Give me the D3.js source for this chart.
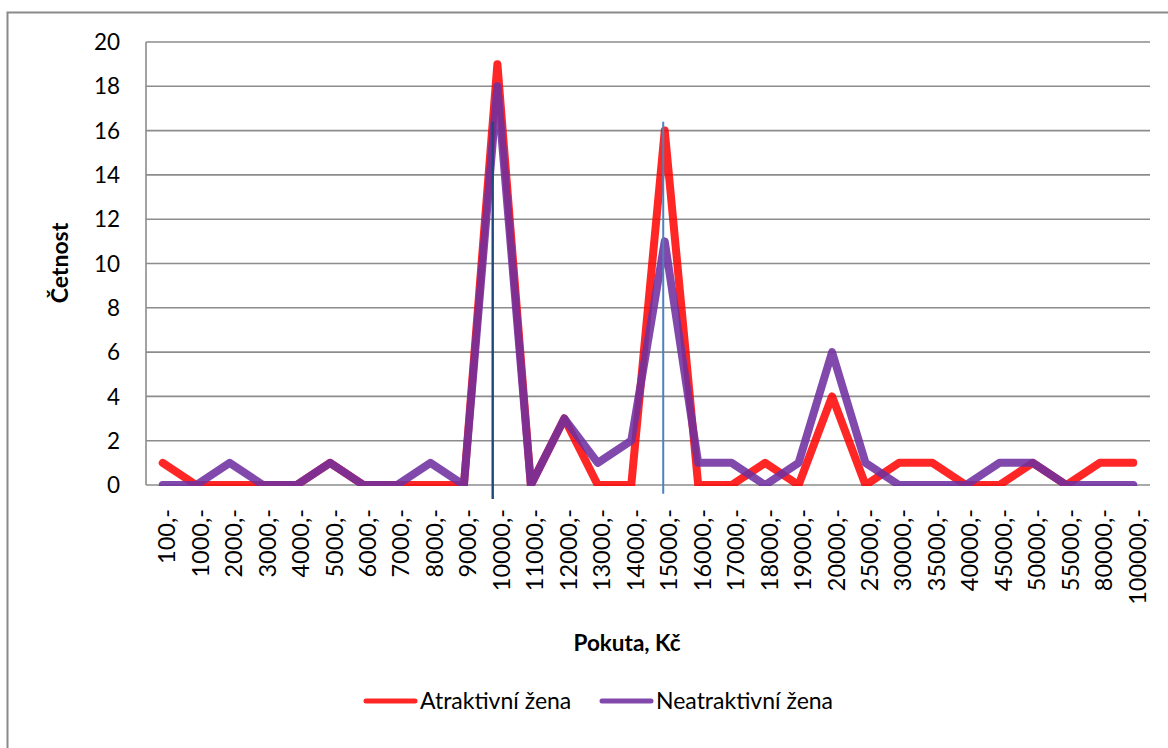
<!DOCTYPE html>
<html>
<head>
<meta charset="utf-8">
<script src="https://cdn.jsdelivr.net/npm/d3@7"></script>
<style>
  html, body { margin: 0; padding: 0; background: #fff; }
  svg { display: block; }
  text { font-family: Lato, "Open Sans", sans-serif; fill: #000; }
</style>
</head>
<body>
<div id="chart"></div>
<script>
// ---- data ----
const categories = ["100,-","1000,-","2000,-","3000,-","4000,-","5000,-","6000,-","7000,-","8000,-","9000,-",
  "10000,-","11000,-","12000,-","13000,-","14000,-","15000,-","16000,-","17000,-","18000,-","19000,-",
  "20000,-","25000,-","30000,-","35000,-","40000,-","45000,-","50000,-","55000,-","80000,-","100000,-"];
const atraktivni   = [1,0,0,0,0,1,0,0,0,0,19,0,3,0,0,16,0,0,1,0,4,0,1,1,0,0,1,0,1,1];
const neatraktivni = [0,0,1,0,0,1,0,0,1,0,18,0,3,1,2,11,1,1,0,1,6,1,0,0,0,1,1,0,0,0];
const seriesNames = ["Atraktivní žena", "Neatraktivní žena"];
const yTicks = [0,2,4,6,8,10,12,14,16,18,20];
// annotation lines (category, offset in category steps, top/bottom values)
const markerCats = ["10000,-", "15000,-"];
const markerOffsets = [-0.14, -0.045];
const markerTops = [16.4, 16.4];
const markerBottoms = [-0.63, -0.39];

// ---- layout ----
const W = 1168, H = 748;
const plot = { left: 146, right: 1150, top: 42, bottom: 485 };
const colors = ["#FF0000", "#7030A0"];
const opac = [0.85, 0.88];
const markerColors = ["#1F497D", "#4F81BD"];

const svg = d3.select("#chart").append("svg").attr("width", W).attr("height", H);

// outer border (extends beyond the picture on right/bottom)
svg.append("rect").attr("x", 7.5).attr("y", 12.5).attr("width", 1300).attr("height", 900)
  .attr("fill", "none").attr("stroke", "#8a8a8a").attr("stroke-width", 2);

const x = d3.scaleBand().domain(categories).range([plot.left, plot.right]).padding(0);
const cx = c => x(c) + x.bandwidth() / 2;
const y = d3.scaleLinear().domain([0, 20]).range([plot.bottom, plot.top]);

// gridlines
svg.append("g").selectAll("line").data(yTicks).join("line")
  .attr("x1", plot.left).attr("x2", plot.right)
  .attr("y1", d => y(d)).attr("y2", d => y(d))
  .attr("stroke", "#8c8c8c").attr("stroke-width", 1.6);
// y axis line
svg.append("line").attr("x1", plot.left).attr("x2", plot.left)
  .attr("y1", plot.top).attr("y2", plot.bottom)
  .attr("stroke", "#8c8c8c").attr("stroke-width", 1.6);

// y tick labels
svg.append("g").selectAll("text").data(yTicks).join("text")
  .attr("x", 120).attr("y", d => y(d)).attr("dy", "0.36em")
  .attr("text-anchor", "end").attr("font-size", 22.5)
  .text(d => d);

// x tick labels
svg.append("g").selectAll("text").data(categories).join("text")
  .attr("transform", d => `translate(${cx(d) + 4},509) rotate(-90)`)
  .attr("dy", "0.36em").attr("text-anchor", "end").attr("font-size", 23.5)
  .text(d => d);

// clip
svg.append("clipPath").attr("id", "clip").append("rect")
  .attr("x", plot.left).attr("y", 0).attr("width", plot.right - plot.left + 20)
  .attr("height", plot.bottom + 1 );

const line = d3.line().x((d, i) => cx(categories[i])).y(d => y(d));
const lg = svg.append("g").attr("clip-path", "url(#clip)");
[atraktivni, neatraktivni].forEach((s, k) => {
  lg.append("path").datum(s).attr("d", line)
    .attr("fill", "none").attr("stroke", colors[k]).attr("stroke-opacity", opac[k])
    .attr("stroke-width", 8).attr("stroke-linejoin", "round").attr("stroke-linecap", "round");
});

// annotation vertical lines
svg.append("g").selectAll("line").data(markerCats).join("line")
  .attr("x1", (d, i) => cx(d) + markerOffsets[i] * x.step())
  .attr("x2", (d, i) => cx(d) + markerOffsets[i] * x.step())
  .attr("y1", (d, i) => y(markerTops[i])).attr("y2", (d, i) => y(markerBottoms[i]))
  .attr("stroke", (d, i) => markerColors[i]).attr("stroke-width", (d, i) => i === 0 ? 2.4 : 2);

// axis titles
svg.append("text").attr("transform", "translate(60,263) rotate(-90)")
  .attr("dy", "0.36em").attr("text-anchor", "middle")
  .attr("font-size", 23).attr("font-weight", "bold").text("Četnost");
svg.append("text").attr("x", 627).attr("y", 643).attr("dy", "0.36em")
  .attr("text-anchor", "middle").attr("font-size", 22.5).attr("font-weight", "bold")
  .text("Pokuta, Kč");

// legend
const legX = [366, 602];
const leg = svg.append("g").selectAll("g").data(seriesNames).join("g")
  .attr("transform", (d, i) => `translate(${legX[i]},701)`);
leg.append("line").attr("x1", 0).attr("x2", 49).attr("y1", 0).attr("y2", 0)
  .attr("stroke", (d, i) => colors[i]).attr("stroke-opacity", (d, i) => opac[i])
  .attr("stroke-width", 5).attr("stroke-linecap", "round");
leg.append("text").attr("x", 54).attr("y", 0).attr("dy", "0.36em")
  .attr("font-size", 23).text(d => d);
</script>
</body>
</html>
